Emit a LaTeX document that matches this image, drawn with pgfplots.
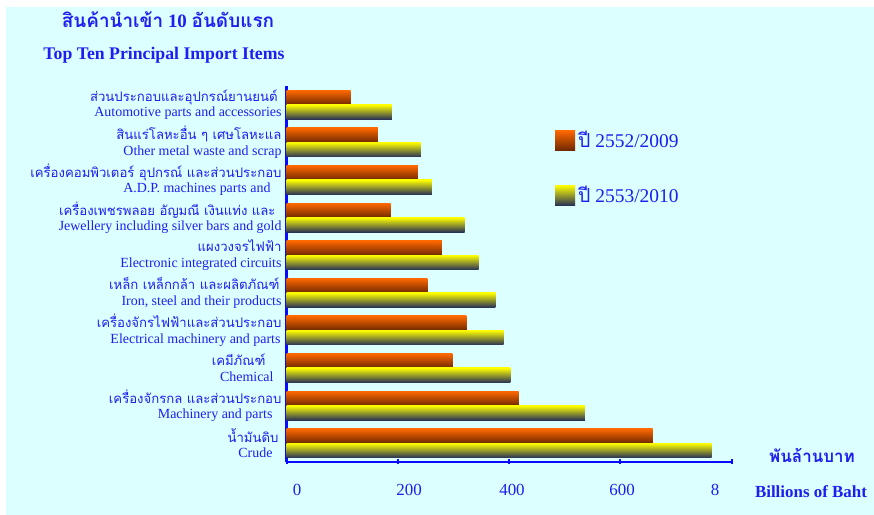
\documentclass[border=0pt]{standalone}
\usepackage{fontspec}
\setmainfont{Liberation Serif}
\newfontfamily\thaifont[Script=Thai]{Loma}
\usepackage{pgfplots}
\pgfplotsset{compat=1.18}
\definecolor{bg}{RGB}{220,255,255}
\definecolor{lab}{RGB}{30,30,240}
\definecolor{ax}{RGB}{10,10,255}
\definecolor{orTop}{RGB}{255,104,0}
\definecolor{orBot}{RGB}{110,40,0}
\definecolor{yeTop}{RGB}{255,255,0}
\definecolor{yeBot}{RGB}{40,48,85}

\newcommand{\thl}[1]{{\thaifont\fontsize{13.2}{16}\selectfont #1}}
\tikzset{
  barA/.style={xbar, bar shift=7.25bp, draw=none, top color=orTop, bottom color=orBot},
  barB/.style={xbar, bar shift=-7.25bp, draw=none, top color=yeTop, bottom color=yeBot},
}

\begin{document}
\begin{tikzpicture}[x=1bp,y=1bp]
\useasboundingbox (0,0) rectangle (874,515);
\fill[white] (0,0) rectangle (874,515);
\fill[bg] (6,0) rectangle (874,508);
\begin{axis}[
  at={(286.7bp,53bp)}, anchor=south west, scale only axis,
  width=445bp, height=376bp,
  xmin=0, xmax=800, ymin=-0.5, ymax=9.5,
  axis x line=bottom, axis y line=left,
  axis line style={-, ax, line width=2.6bp},
  xtick={0,200,400,600,800}, xticklabels={},
  x tick style={ax, line width=2bp}, tick align=center, major tick length=5bp,
  extra x ticks={18.5,220,405,603,770},
  extra x tick labels={0,200,400,600,8},
  extra x tick style={major tick length=0pt, x tick style={draw=none}},
  ytick={0,...,9}, y tick style={draw=none},
  yticklabels={
    {\thl{น้ำมันดิบ}\hspace*{3bp}\\Crude\hspace*{9bp}},
    {\thl{เครื่องจักรกล และส่วนประกอบ}\\Machinery and parts\hspace*{9bp}},
    {\thl{เคมีภัณฑ์}\hspace*{16bp}\\Chemical\hspace*{8bp}},
    {\thl{เครื่องจักรไฟฟ้าและส่วนประกอบ}\\Electrical machinery and parts\hspace*{1bp}},
    {\thl{เหล็ก เหล็กกล้า และผลิตภัณฑ์}\hspace*{2bp}\\Iron, steel and their products},
    {\thl{แผงวงจรไฟฟ้า}\\Electronic integrated circuits},
    {\thl{เครื่องเพชรพลอย อัญมณี เงินแท่ง และ}\hspace*{6bp}\\Jewellery including silver bars and gold},
    {\thl{เครื่องคอมพิวเตอร์ อุปกรณ์ และส่วนประกอบ}\\A.D.P. machines parts and\hspace*{11bp}},
    {\thl{สินแร่โลหะอื่น ๆ เศษโลหะแล}\\Other metal waste and scrap},
    {\thl{ส่วนประกอบและอุปกรณ์ยานยนต์}\hspace*{4bp}\\Automotive parts and accessories}
  },
  xticklabel style={text=lab, font=\fontsize{17}{20}\selectfont, yshift=-19bp},
  yticklabel style={text=lab, align=right, inner xsep=0bp, font=\fontsize{14}{15.5}\selectfont},
  xbar, bar width=14.5bp,
  legend style={at={(rel axis cs:0.603,0.885)}, anchor=north west, draw=none, fill=none,
    inner sep=0pt, row sep=33bp, font=\fontsize{19.5}{21}\selectfont, text=lab,
    nodes={inner xsep=3bp}},
  legend image code/.code={\path[#1] (0bp,-10bp) rectangle (20bp,10bp);},
]
% one plot per bar, so that each bar gets its own gradient
\addplot[barA] coordinates {(658,0)};
\addplot[barB] coordinates {(764,0)};
\addplot[barA, forget plot] coordinates {(417,1)};
\addplot[barA, forget plot] coordinates {(298,2)};
\addplot[barA, forget plot] coordinates {(323,3)};
\addplot[barA, forget plot] coordinates {(253,4)};
\addplot[barA, forget plot] coordinates {(279,5)};
\addplot[barA, forget plot] coordinates {(187,6)};
\addplot[barA, forget plot] coordinates {(236,7)};
\addplot[barA, forget plot] coordinates {(164,8)};
\addplot[barA, forget plot] coordinates {(115,9)};
\addplot[barB, forget plot] coordinates {(536,1)};
\addplot[barB, forget plot] coordinates {(402,2)};
\addplot[barB, forget plot] coordinates {(390,3)};
\addplot[barB, forget plot] coordinates {(375,4)};
\addplot[barB, forget plot] coordinates {(345,5)};
\addplot[barB, forget plot] coordinates {(320,6)};
\addplot[barB, forget plot] coordinates {(261,7)};
\addplot[barB, forget plot] coordinates {(241,8)};
\addplot[barB, forget plot] coordinates {(189,9)};
\legend{{\thaifont ปี} 2552/2009, {\thaifont ปี} 2553/2010}
\end{axis}
\node[text=lab, font=\fontsize{19}{22}\selectfont\bfseries] at (168,495) {{\thaifont สินค้านำเข้า} 10 {\thaifont อันดับแรก}};
\node[text=lab, font=\fontsize{17.8}{20}\selectfont\bfseries] at (164,460) {Top Ten Principal Import Items};
\node[text=lab, font=\thaifont\fontsize{17}{20}\selectfont\bfseries] at (812,60) {พันล้านบาท};
\node[text=lab, font=\fontsize{17}{20}\selectfont\bfseries] at (811,23) {Billions of Baht};
\end{tikzpicture}
\end{document}
